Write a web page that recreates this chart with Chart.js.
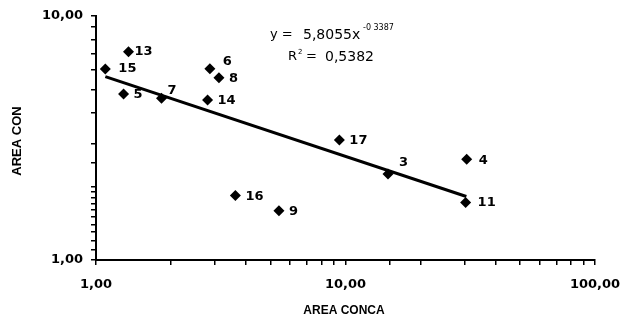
<!DOCTYPE html>
<html>
<head>
<meta charset="utf-8">
<script src="https://cdn.jsdelivr.net/npm/chart.js@4.4.1/dist/chart.umd.min.js"></script>
<style>
html,body{margin:0;padding:0;background:#fff;}
#wrap{width:620px;height:324px;}
</style>
</head>
<body>
<div id="wrap"><canvas id="chartArea"></canvas></div>
<script>

/* DONNEES */

const pointIds   = ['15','13','5','7','14','6','8','16','9','17','3','4','11'];
const areaConca  = [1.09,1.35,1.29,1.83,2.80,2.86,3.11,3.62,5.41,9.45,14.8,30.6,30.3];
const areaCon    = [6.06,7.14,4.79,4.60,4.53,6.08,5.59,1.84,1.59,3.10,2.25,2.59,1.72];

/* courbe de tendance (puissance), extremites */
const trendX = [1.09,30.5];
const trendY = [5.64,1.82];

const equation = ['y =','5,8055x','-0 3387'];
const r2Text = '0,5382';

/* decalage des etiquettes (px) */
const labelShift = {'15':[13,0],'13':[6,0],'7':[6,-8],'6':[13,-7],'3':[11,-11],'4':[12,1],'11':[12,0]};

const FONT = '"DejaVu Sans", Arial, sans-serif';
const ARIAL = '"Liberation Sans", Arial, sans-serif';

function fmt(v){
return v.toFixed(2).replace('.',',');
}

const labelsPlugin = {
id:'labelsPlugin',
afterDraw(chart){
const ctx = chart.ctx;
const meta = chart.getDatasetMeta(0);
ctx.save();
ctx.fillStyle = '#000';
ctx.font = 'bold 13px ' + FONT;
ctx.textBaseline = 'middle';
ctx.textAlign = 'left';
meta.data.forEach((p,i)=>{
let s = labelShift[pointIds[i]] || [10,1];
ctx.fillText(pointIds[i], p.x + s[0], p.y + s[1]);
});

/* equation */
ctx.font = '13px ' + FONT;
ctx.fillText(equation[0], 270, 35);
ctx.font = '14px ' + FONT;
ctx.fillText(equation[1], 303, 35);
ctx.font = '8px ' + FONT;
ctx.fillText(equation[2], 363, 28);
ctx.font = '13px ' + FONT;
ctx.fillText('R', 288, 57);
ctx.font = '7px ' + FONT;
ctx.fillText('2', 298, 52);
ctx.font = '13px ' + FONT;
ctx.fillText('=', 306, 57);
ctx.font = '14px ' + FONT;
ctx.fillText(r2Text, 325, 57);

/* titres des axes */
ctx.font = 'bold 12px ' + ARIAL;
ctx.textAlign = 'center';
ctx.fillText('AREA CONCA', 344, 311);
ctx.translate(17, 141);
ctx.rotate(-Math.PI/2);
ctx.font = 'bold 13px ' + ARIAL;
ctx.fillText('AREA CON', 0, 0);
ctx.restore();
}
};

new Chart(document.getElementById('chartArea'),{

type:'scatter',

data:{
datasets:[
{
label:'Areas',
data:areaConca.map((x,i)=>({x:x,y:areaCon[i]})),
pointStyle:'rectRot',
pointRadius:5.5,
backgroundColor:'#000',
borderColor:'#000',
borderWidth:0
},
{
label:'Tendance',
type:'line',
data:trendX.map((x,i)=>({x:x,y:trendY[i]})),
borderColor:'#000',
borderWidth:3,
pointRadius:0,
fill:false
}
]
},

options:{
responsive:true,
maintainAspectRatio:false,
animation:false,
layout:{padding:{top:16,right:25,left:0,bottom:0}},
plugins:{
legend:{display:false},
tooltip:{enabled:false}
},
scales:{
x:{
type:'logarithmic',
min:1,
max:100,
afterFit(s){ s.height = 64; s.paddingLeft = 0; s.paddingRight = 0; },
grid:{drawOnChartArea:false,drawTicks:true,tickLength:5,color:'#000',lineWidth:1.5},
border:{color:'#000',width:2},
ticks:{
color:'#000',
padding:12,
maxRotation:0,
autoSkip:false,
font:{family:FONT,size:13,weight:'bold'},
callback:(v)=> [1,10,100].includes(v) ? fmt(v) : ''
}
},
y:{
type:'logarithmic',
min:1,
max:10,
afterFit(s){ s.width = 96; s.paddingTop = 0; s.paddingBottom = 0; },
grid:{drawOnChartArea:false,drawTicks:true,tickLength:5,color:'#000',lineWidth:1.5},
border:{color:'#000',width:2},
ticks:{
color:'#000',
padding:8,
autoSkip:false,
font:{family:FONT,size:13,weight:'bold'},
callback:(v)=> [1,10].includes(v) ? fmt(v) : ''
}
}
}
},

plugins:[labelsPlugin]

});

</script>
</body>
</html>
